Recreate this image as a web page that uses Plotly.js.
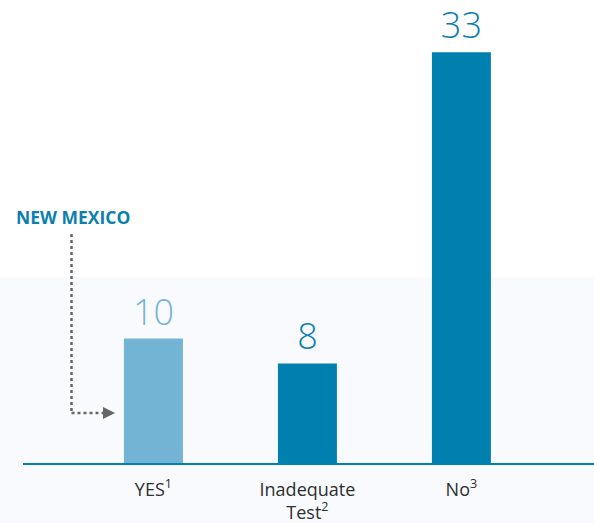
<!DOCTYPE html>
<html>
<head>
<meta charset="utf-8">
<script src="https://cdn.plot.ly/plotly-3.0.1.min.js"></script>
<style>html,body{margin:0;padding:0;background:#fff;}#chart{width:594px;height:523px;}</style>
</head>
<body>
<div id="chart"></div>
<script>
var categories = ["YES", "Inadequate Test", "No"];
var tickLabels = ["YES<sup>1</sup>", "Inadequate<br>Test<sup>2</sup>", "No<sup>3</sup>"];
var values = [10, 8, 33];
var barColors = ["#73b3d4", "#0080ae", "#0080ae"];
var labelColors = ["#74b4d4", "#0a7fae", "#0a7fae"];
var calloutText = "NEW MEXICO";

// pixel helpers for the plot area (l=23, top=0, width=571, height=463)
function px(x){ return (x - 23) / 571; }
function py(y){ return (463 - y) / 463; }

var trace = {
  type: "bar",
  x: categories,
  y: values,
  width: 0.383,
  marker: {color: barColors},
  text: values.map(String),
  textposition: "outside",
  cliponaxis: false,
  textfont: {family: "Open Sans, Noto Sans, sans-serif", size: 36, weight: 300, color: labelColors},
  hoverinfo: "none"
};

var layout = {
  width: 594, height: 523,
  margin: {l: 23, r: 0, t: 0, b: 60},
  paper_bgcolor: "#ffffff",
  plot_bgcolor: "rgba(0,0,0,0)",
  showlegend: false,
  xaxis: {
    type: "category",
    range: [-0.847, 2.861],
    tickvals: categories,
    ticktext: tickLabels,
    tickfont: {family: "Open Sans, Noto Sans, sans-serif", size: 18, color: "#2e2e2e"},
    ticklabelstandoff: 9,
    showline: true, linecolor: "#0080ae", linewidth: 2,
    ticks: "", showgrid: false, zeroline: false, fixedrange: true
  },
  yaxis: {
    range: [0, 37.2],
    showgrid: false, zeroline: false, showticklabels: false, showline: false, ticks: "", fixedrange: true
  },
  shapes: [
    {type: "rect", xref: "paper", yref: "paper", x0: px(0), x1: px(594), y0: py(277), y1: py(523),
     fillcolor: "#f8fafd", line: {width: 0}, layer: "below"},
    {type: "line", xref: "paper", yref: "paper", x0: px(71.5), x1: px(71.5), y0: py(234), y1: py(413),
     line: {color: "#666666", width: 2.5, dash: "dot"}},
    {type: "line", xref: "paper", yref: "paper", x0: px(71.5), x1: px(103), y0: py(413), y1: py(413),
     line: {color: "#666666", width: 2.5, dash: "dot"}},
    {type: "path", xref: "paper", yref: "paper",
     path: "M " + px(103) + " " + py(407) + " L " + px(115) + " " + py(413) + " L " + px(103) + " " + py(419) + " Z",
     fillcolor: "#666666", line: {width: 0}}
  ],
  annotations: [
    {xref: "paper", yref: "paper", x: px(72.5), y: py(217), xanchor: "center", yanchor: "middle",
     text: "<b>" + calloutText + "</b>", showarrow: false,
     font: {family: "Open Sans, Noto Sans, sans-serif", size: 17.5, color: "#0d7fae"}}
  ]
};

Plotly.newPlot("chart", [trace], layout, {displayModeBar: false, staticPlot: true});
</script>
</body>
</html>
